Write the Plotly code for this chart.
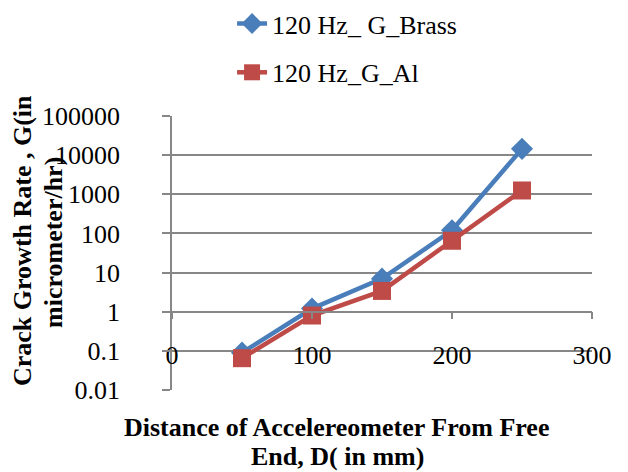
import plotly.graph_objects as go

distance_mm = [50, 100, 150, 200, 250]
g_brass = [0.09, 1.2, 7, 120, 14500]
g_al = [0.065, 0.8, 3.4, 65, 1250]
y_tickvals = [0.01, 0.1, 1, 10, 100, 1000, 10000, 100000]
y_ticktext = ["0.01", "0.1", "1", "10", "100", "1000", "10000", "100000"]
x_tickvals = [0, 100, 200, 300]
x_ticktext = ["0", "100", "200", "300"]

FONT = "'Liberation Serif', 'Times New Roman', serif"
GRID = "#878787"
FS = 26

fig = go.Figure()
fig.add_trace(go.Scatter(
    x=distance_mm, y=g_brass, mode="lines+markers", name="120 Hz_ G_Brass",
    legendgroup="a",
    line=dict(color="#4a7ebb", width=4.5),
    marker=dict(symbol="diamond", size=17, color="#4a7ebb"),
))
fig.add_trace(go.Scatter(
    x=distance_mm, y=g_al, mode="lines+markers", name="120 Hz_G_Al",
    legendgroup="b",
    line=dict(color="#be4b48", width=4.5),
    marker=dict(symbol="square", size=18, color="#be4b48"),
))


def px_x(X):
    return (X - 172) / 420


def px_y(Y):
    return (390 - Y) / 274


title_font = dict(family=FONT, size=FS, color="black")

fig.update_layout(
    width=620, height=464,
    margin=dict(l=164, r=36, t=108, b=82, autoexpand=False),
    paper_bgcolor="white", plot_bgcolor="white",
    font=dict(family=FONT, size=FS, color="black"),
    showlegend=True,
    legend=dict(x=0.143, y=1.423, xanchor="left", yanchor="top",
                traceorder="grouped", tracegroupgap=12,
                font=dict(family=FONT, size=FS), bgcolor="rgba(0,0,0,0)"),
    xaxis=dict(range=[0, 300], tickvals=x_tickvals, ticktext=x_ticktext,
               anchor="free", position=2/7, showline=True, linecolor=GRID,
               linewidth=1.5, ticks="outside", ticklen=7, tickcolor=GRID,
               tickwidth=1.5, showgrid=False, zeroline=False,
               ticklabelstandoff=13,
               tickfont=dict(family=FONT, size=FS)),
    yaxis=dict(type="log", range=[-2, 5], tickvals=y_tickvals, ticktext=y_ticktext,
               showline=True, linecolor=GRID, linewidth=1.5, ticks="outside",
               ticklen=8, tickcolor=GRID, tickwidth=1.5, showgrid=True,
               gridcolor=GRID, gridwidth=1.5, zeroline=False,
               ticklabelstandoff=37,
               tickfont=dict(family=FONT, size=FS)),
    annotations=[
        dict(text="<b>Distance of Accelereometer From Free</b>",
             xref="paper", yref="paper", x=px_x(336), y=px_y(427),
             xanchor="center", yanchor="middle", showarrow=False,
             font=title_font),
        dict(text="<b>End, D( in mm)</b>",
             xref="paper", yref="paper", x=px_x(337), y=px_y(456),
             xanchor="center", yanchor="middle", showarrow=False,
             font=title_font),
        dict(text="<b>Crack Growth Rate , G(in</b>", textangle=-90,
             xref="paper", yref="paper", x=px_x(22), y=px_y(241),
             xanchor="center", yanchor="middle", showarrow=False,
             font=title_font),
        dict(text="<b>micrometer/hr)</b>", textangle=-90,
             xref="paper", yref="paper", x=px_x(53), y=px_y(243),
             xanchor="center", yanchor="middle", showarrow=False,
             font=title_font),
    ],
)

fig.write_html("out.html")
